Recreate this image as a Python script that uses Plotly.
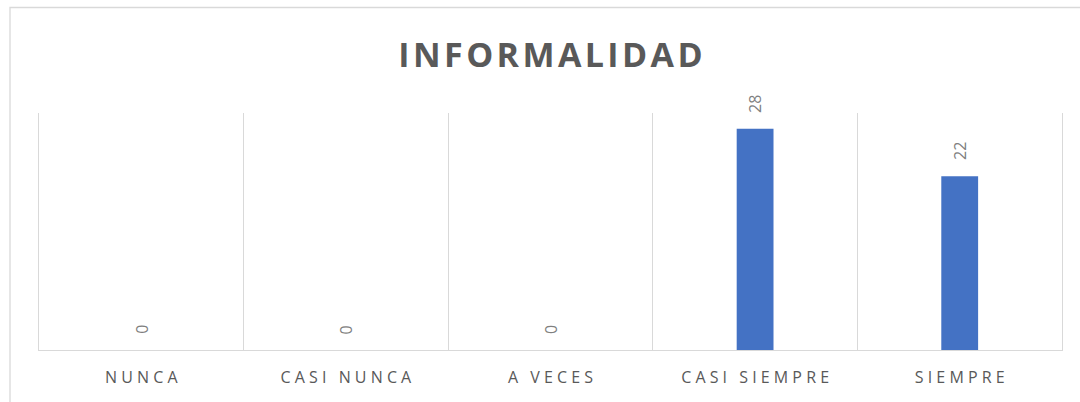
import plotly.graph_objects as go

categories = ["NUNCA", "CASI NUNCA", "A VECES", "CASI SIEMPRE", "SIEMPRE"]
values = [0, 0, 0, 28, 22]
title_text = "INFORMALIDAD"

W, H = 1080, 402
ML, MR, MT, MB = 39, 18, 113, 52
PW, PH = W - ML - MR, H - MT - MB

GRAY_LINE = "#d9d9d9"
TEXT = "#595959"
LABEL = "#7f7f7f"
BAR = "#4472C4"


def spaced(s, gap=" ", word=" \u2002"):
    return word.join(gap.join(list(w)) for w in s.split(" "))


fig = go.Figure()
fig.add_trace(go.Bar(
    x=categories, y=values, marker=dict(color=BAR, line=dict(width=0)),
    width=0.18, hoverinfo="x+y",
))

for c, v in zip(categories, values):
    fig.add_annotation(
        x=c, y=v, xref="x", yref="y", text=str(v), showarrow=False,
        textangle=-90, yanchor="bottom", xanchor="center", yshift=14,
        font=dict(family="Open Sans", size=16, color=LABEL),
    )

# outer chart border
px2x = lambda p: (p - ML) / PW
py2y = lambda p: (H - MB - p) / PH
fig.add_shape(type="rect", xref="paper", yref="paper",
              x0=px2x(10), x1=px2x(1095), y0=py2y(7.5), y1=py2y(420),
              line=dict(color=GRAY_LINE, width=1.3), fillcolor="rgba(0,0,0,0)", layer="below")

fig.update_layout(
    width=W, height=H,
    margin=dict(l=ML, r=MR, t=MT, b=MB, pad=0),
    paper_bgcolor="white", plot_bgcolor="white",
    showlegend=False,
    title=dict(text="<b>" + spaced(title_text, gap="\u200a") + "</b>",
               x=0.5, xref="paper", xanchor="center",
               y=1 - 55 / H, yref="container", yanchor="middle",
               font=dict(family="Open Sans", size=34, color=TEXT)),
    xaxis=dict(
        type="category", tickson="boundaries", showgrid=True, gridcolor=GRAY_LINE, gridwidth=1.3,
        showline=True, linecolor=GRAY_LINE, linewidth=1.3, ticks="",
        tickvals=categories, ticktext=[spaced(c) for c in categories],
        tickfont=dict(family="Open Sans", size=16, color=TEXT),
        ticklabelstandoff=13,
        range=[-0.5, len(categories) - 0.5], fixedrange=True,
    ),
    yaxis=dict(
        range=[0, 30], showgrid=False, zeroline=False, showticklabels=False, ticks="",
        showline=True, mirror=True, linecolor=GRAY_LINE, linewidth=1.3, fixedrange=True,
    ),
    bargap=0.82,
)

fig.write_html("out.html", config={"displayModeBar": False},
               post_script="document.body.style.margin='0';document.body.style.overflow='hidden';")
